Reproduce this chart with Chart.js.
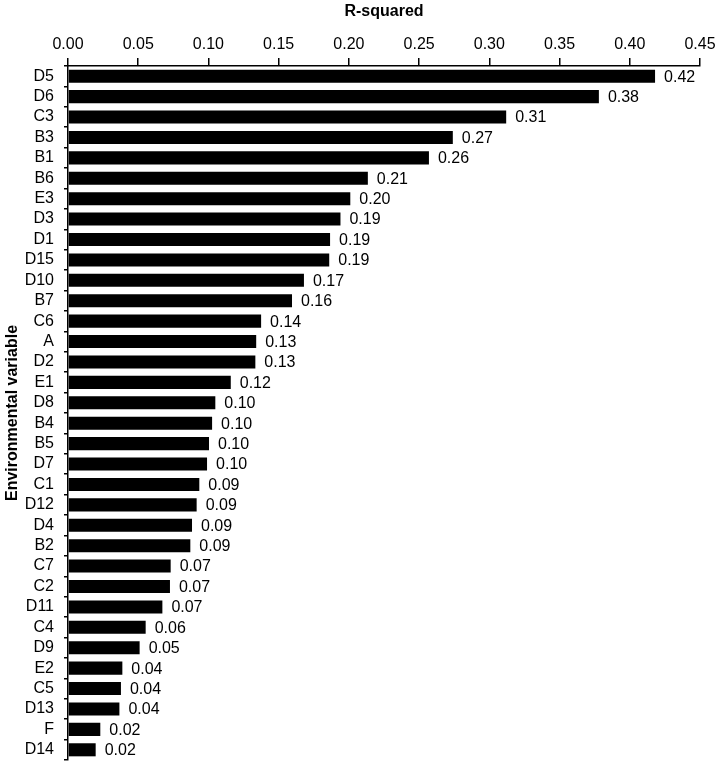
<!DOCTYPE html>
<html>
<head>
<meta charset="utf-8">
<script src="https://cdn.jsdelivr.net/npm/chart.js@4"></script>
<style>
  html, body { margin: 0; padding: 0; background: #fff; }
  #wrap { width: 721px; height: 765px; }
</style>
</head>
<body>
<div id="wrap"><canvas id="rsqChart"></canvas></div>
<script>
// Environmental variables, sorted by R-squared
const variables = ['D5','D6','C3','B3','B1','B6','E3','D3','D1','D15','D10','B7','C6','A','D2','E1','D8','B4','B5','D7','C1','D12','D4','B2','C7','C2','D11','C4','D9','E2','C5','D13','F','D14'];
const rSquared = [0.418,0.378,0.312,0.274,0.257,0.2135,0.201,0.194,0.1866,0.186,0.168,0.1595,0.1375,0.134,0.1334,0.1159,0.1049,0.1026,0.1004,0.099,0.0935,0.0916,0.0883,0.0871,0.0731,0.0726,0.0672,0.0553,0.051,0.0387,0.0377,0.0366,0.023,0.0197];
const xTicks = [0,0.05,0.10,0.15,0.20,0.25,0.30,0.35,0.40,0.45];

const FONT = 'Arial, "Liberation Sans", sans-serif';

// value labels at the end of each bar
const barLabels = {
  id: 'barLabels',
  afterDatasetsDraw(chart) {
    const ctx = chart.ctx;
    const meta = chart.getDatasetMeta(0);
    ctx.save();
    ctx.font = '16px ' + FONT;
    ctx.fillStyle = '#000';
    ctx.textAlign = 'left';
    ctx.textBaseline = 'middle';
    meta.data.forEach((bar, i) => {
      ctx.fillText(rSquared[i].toFixed(2), bar.x + 9, bar.y + 1);
    });
    ctx.restore();
  }
};

new Chart(document.getElementById('rsqChart'), {
  type: 'bar',
  data: {
    labels: variables,
    datasets: [{
      data: rSquared,
      backgroundColor: '#000',
      borderWidth: 0,
      barPercentage: 0.64,
      categoryPercentage: 1
    }]
  },
  options: {
    indexAxis: 'y',
    responsive: true,
    maintainAspectRatio: false,
    animation: false,
    layout: { padding: { left: 3, right: 21, top: 0, bottom: 5 } },
    plugins: {
      legend: { display: false },
      tooltip: { enabled: false }
    },
    scales: {
      x: {
        position: 'top',
        min: 0,
        max: 0.45,
        afterBuildTicks(scale) {
          scale.ticks = xTicks.map(v => ({ value: v }));
        },
        afterFit(scale) { scale.height = 66; },
        ticks: {
          color: '#000',
          font: { family: FONT, size: 16 },
          padding: 4,
          callback: v => v.toFixed(2)
        },
        grid: {
          drawOnChartArea: false,
          drawTicks: true,
          tickLength: 8,
          color: '#000',
          lineWidth: 1.5
        },
        border: { display: true, color: '#000', width: 1.5 },
        title: {
          display: true,
          text: 'R-squared',
          color: '#000',
          font: { family: FONT, size: 16, weight: 'bold' },
          padding: { top: 2, bottom: 4 }
        }
      },
      y: {
        afterFit(scale) {
          scale.width = 65;
          scale.paddingTop = 0;
          scale.paddingBottom = 0;
        },
        ticks: {
          color: '#000',
          font: { family: FONT, size: 16 },
          padding: 10,
          autoSkip: false
        },
        grid: {
          offset: true,
          drawOnChartArea: false,
          drawTicks: true,
          tickLength: 4,
          color: '#000',
          lineWidth: 1.5
        },
        border: { display: true, color: '#000', width: 1.5 },
        title: {
          display: true,
          text: 'Environmental variable',
          color: '#000',
          font: { family: FONT, size: 16, weight: 'bold' },
          padding: { top: 0, bottom: 2 }
        }
      }
    }
  },
  plugins: [barLabels]
});
</script>
</body>
</html>
